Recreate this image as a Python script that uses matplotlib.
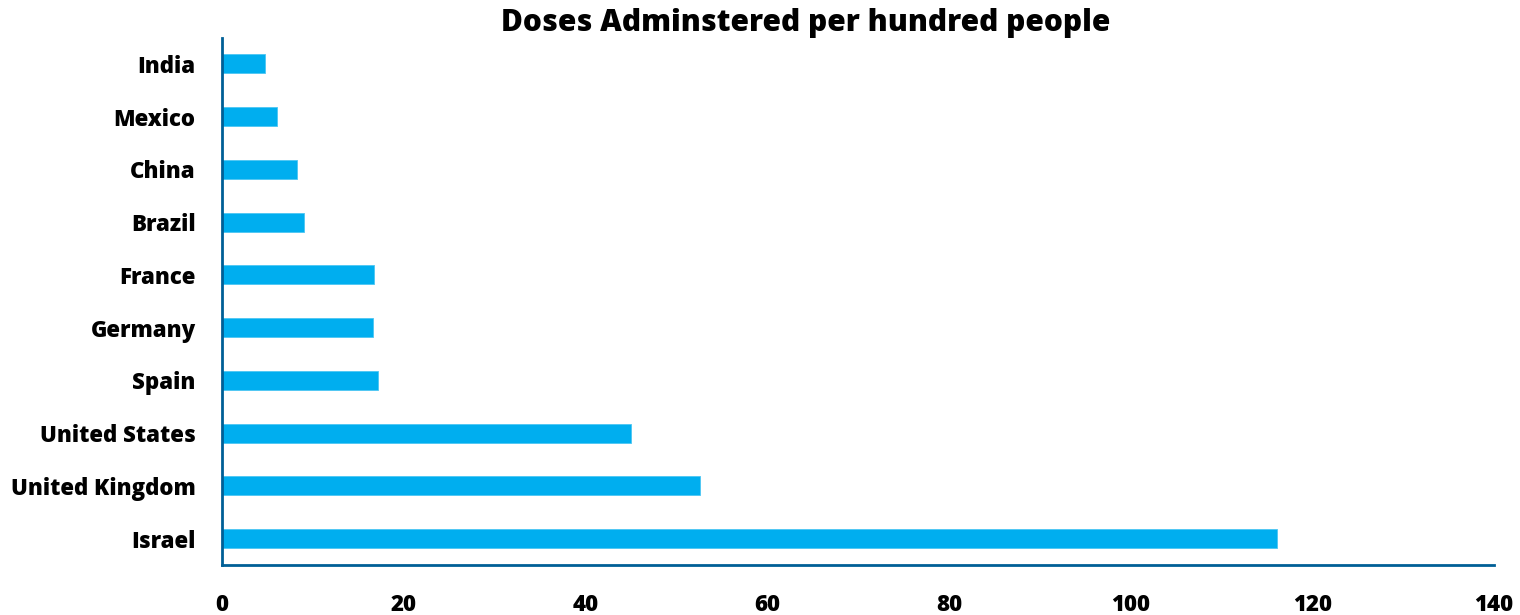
import matplotlib
matplotlib.use("Agg")
import matplotlib.pyplot as plt

countries = ["India", "Mexico", "China", "Brazil", "France", "Germany", "Spain",
             "United States", "United Kingdom", "Israel"]
doses = [4.7, 6.1, 8.3, 9.0, 16.7, 16.6, 17.2, 45.0, 52.6, 116.1]
x_ticks = [0, 20, 40, 60, 80, 100, 120, 140]

plt.rcParams['font.family'] = ['Open Sans', 'DejaVu Sans']

fig = plt.figure(figsize=(15.2, 6.15), dpi=100)
ax = fig.add_axes([0.1461, 0.0813, 0.8368, 0.8576])

ypos = list(range(len(countries)))[::-1]
ax.barh(ypos, doses, height=0.36, color="#00AEEF", edgecolor="#4cc6f3", linewidth=0.6)

ax.set_ylim(-0.5, len(countries) - 0.5)
ax.set_xlim(0, 140)
ax.set_yticks(ypos)
ax.set_yticklabels(countries, fontsize=16, fontweight='heavy')
ax.set_xticks(x_ticks)
ax.set_xticklabels([str(t) for t in x_ticks], fontsize=16, fontweight='heavy')
ax.tick_params(axis='both', length=0)
ax.tick_params(axis='y', pad=19)
ax.tick_params(axis='x', pad=20.5)

for s in ['top', 'right']:
    ax.spines[s].set_visible(False)
for s in ['left', 'bottom']:
    ax.spines[s].set_color("#005F96")
    ax.spines[s].set_linewidth(2)

fig.text(0.5303, 0.962, "Doses Adminstered per hundred people", ha='center', va='center',
         fontsize=21.5, fontweight='heavy')

fig.savefig("out.png", dpi=100)
